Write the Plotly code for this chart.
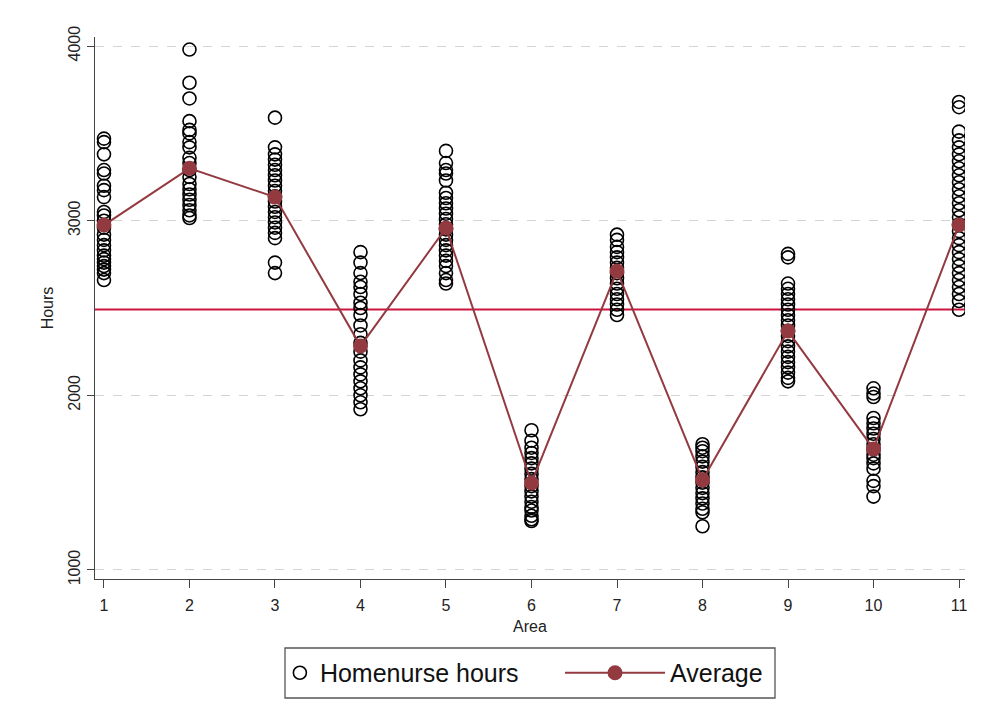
import plotly.graph_objects as go

# Homenurse hours observed in each of the 11 areas
areas = list(range(1, 12))
hours_by_area = {
    1: [3470, 3450, 3380, 3290, 3270, 3200, 3175, 3135, 3050, 3030, 3000, 2960,
        2920, 2890, 2860, 2830, 2800, 2780, 2760, 2740, 2720, 2700, 2660],
    2: [3980, 3790, 3700, 3570, 3520, 3500, 3450, 3420, 3360, 3330, 3290, 3250,
        3210, 3180, 3150, 3120, 3090, 3060, 3030, 3015],
    3: [3590, 3420, 3380, 3350, 3320, 3290, 3260, 3230, 3200, 3170, 3140, 3110,
        3080, 3050, 3020, 2990, 2960, 2930, 2900, 2760, 2700],
    4: [2820, 2760, 2700, 2650, 2620, 2580, 2530, 2500, 2460, 2400, 2350, 2300,
        2250, 2200, 2160, 2120, 2080, 2040, 2000, 1960, 1920],
    5: [3400, 3330, 3290, 3270, 3230, 3160, 3130, 3100, 3070, 3040, 3010, 2980,
        2950, 2920, 2890, 2860, 2830, 2800, 2770, 2740, 2700, 2660, 2640],
    6: [1800, 1740, 1700, 1670, 1640, 1610, 1580, 1550, 1520, 1480, 1450, 1420,
        1390, 1360, 1340, 1310, 1290, 1280],
    7: [2920, 2890, 2850, 2820, 2790, 2760, 2730, 2700, 2670, 2640, 2610, 2580,
        2550, 2520, 2490, 2460],
    8: [1720, 1700, 1680, 1650, 1620, 1590, 1560, 1530, 1500, 1470, 1440, 1410,
        1380, 1350, 1330, 1250],
    9: [2810, 2790, 2640, 2610, 2580, 2550, 2520, 2490, 2460, 2430, 2400, 2370,
        2340, 2310, 2280, 2250, 2220, 2190, 2160, 2130, 2100, 2080],
    10: [2040, 2010, 1990, 1870, 1840, 1810, 1780, 1750, 1720, 1690, 1660, 1640,
         1610, 1580, 1510, 1480, 1420],
    11: [3680, 3650, 3510, 3460, 3420, 3380, 3340, 3300, 3260, 3220, 3180, 3140,
         3100, 3060, 3020, 2980, 2940, 2900, 2860, 2820, 2780, 2740, 2700, 2660,
         2620, 2580, 2540, 2490],
}
area_average = [2975, 3300, 3135, 2282, 2958, 1498, 2712, 1515, 2368, 1693, 2975]
overall_average = 2492

y_ticks = [1000, 2000, 3000, 4000]

point_x = [a for a in areas for _ in hours_by_area[a]]
point_y = [h for a in areas for h in hours_by_area[a]]

avg_color = "#933a41"
mean_line_color = "#cc1440"
font_family = "Liberation Sans, Arial, sans-serif"

fig = go.Figure()

fig.add_trace(go.Scatter(
    x=point_x, y=point_y, mode="markers", name="Homenurse hours",
    marker=dict(symbol="circle-open", size=13, color="black",
                line=dict(width=1.6, color="black")),
    legend="legend",
))

fig.add_trace(go.Scatter(
    x=areas, y=area_average, mode="lines+markers", name="Average",
    line=dict(color=avg_color, width=2),
    marker=dict(symbol="circle", size=15, color=avg_color),
    legend="legend2",
))

# overall average across all areas
fig.add_shape(type="line", xref="paper", x0=0, x1=1, yref="y",
              y0=overall_average, y1=overall_average,
              line=dict(color=mean_line_color, width=2), layer="below")

# frame around the two legend entries
fig.add_shape(type="rect", xref="paper", yref="paper",
              x0=0.2184, x1=0.7816, y0=-0.2196, y1=-0.1273,
              line=dict(color="#555", width=1.3), fillcolor="white",
              layer="below")

legend_common = dict(
    orientation="h", yanchor="middle", y=-0.1734,
    borderwidth=0, bgcolor="rgba(0,0,0,0)",
    font=dict(size=25, color="#111"),
)

fig.update_layout(
    width=983, height=725,
    margin=dict(l=95, r=18, t=37, b=146),
    paper_bgcolor="white", plot_bgcolor="white",
    font=dict(family=font_family, size=16, color="#222"),
    showlegend=True,
    legend=dict(x=0.2125, xanchor="left", itemwidth=30, **legend_common),
    legend2=dict(x=0.5345, xanchor="left", itemwidth=100, **legend_common),
    xaxis=dict(
        range=[0.895, 11.07], tickmode="array", tickvals=areas,
        ticktext=[str(a) for a in areas],
        showgrid=False, zeroline=False,
        showline=True, linecolor="#444", linewidth=1.3,
        ticks="outside", ticklen=8, tickcolor="#444", tickwidth=1.3,
        ticklabelstandoff=4,
        tickfont=dict(size=16),
        title=dict(text="Area", font=dict(size=16), standoff=7),
    ),
    yaxis=dict(
        range=[948, 4052], tickmode="array", tickvals=y_ticks,
        ticktext=[str(v) for v in y_ticks], tickangle=-90,
        showgrid=True, gridcolor="#d4d4d4", gridwidth=1.3, griddash="dash",
        zeroline=False,
        showline=True, linecolor="#444", linewidth=1.3,
        ticks="outside", ticklen=7, tickcolor="#444", tickwidth=1.3,
        tickfont=dict(size=16),
        title=dict(text="Hours", font=dict(size=16), standoff=8),
    ),
)

fig.write_html("out.html")
